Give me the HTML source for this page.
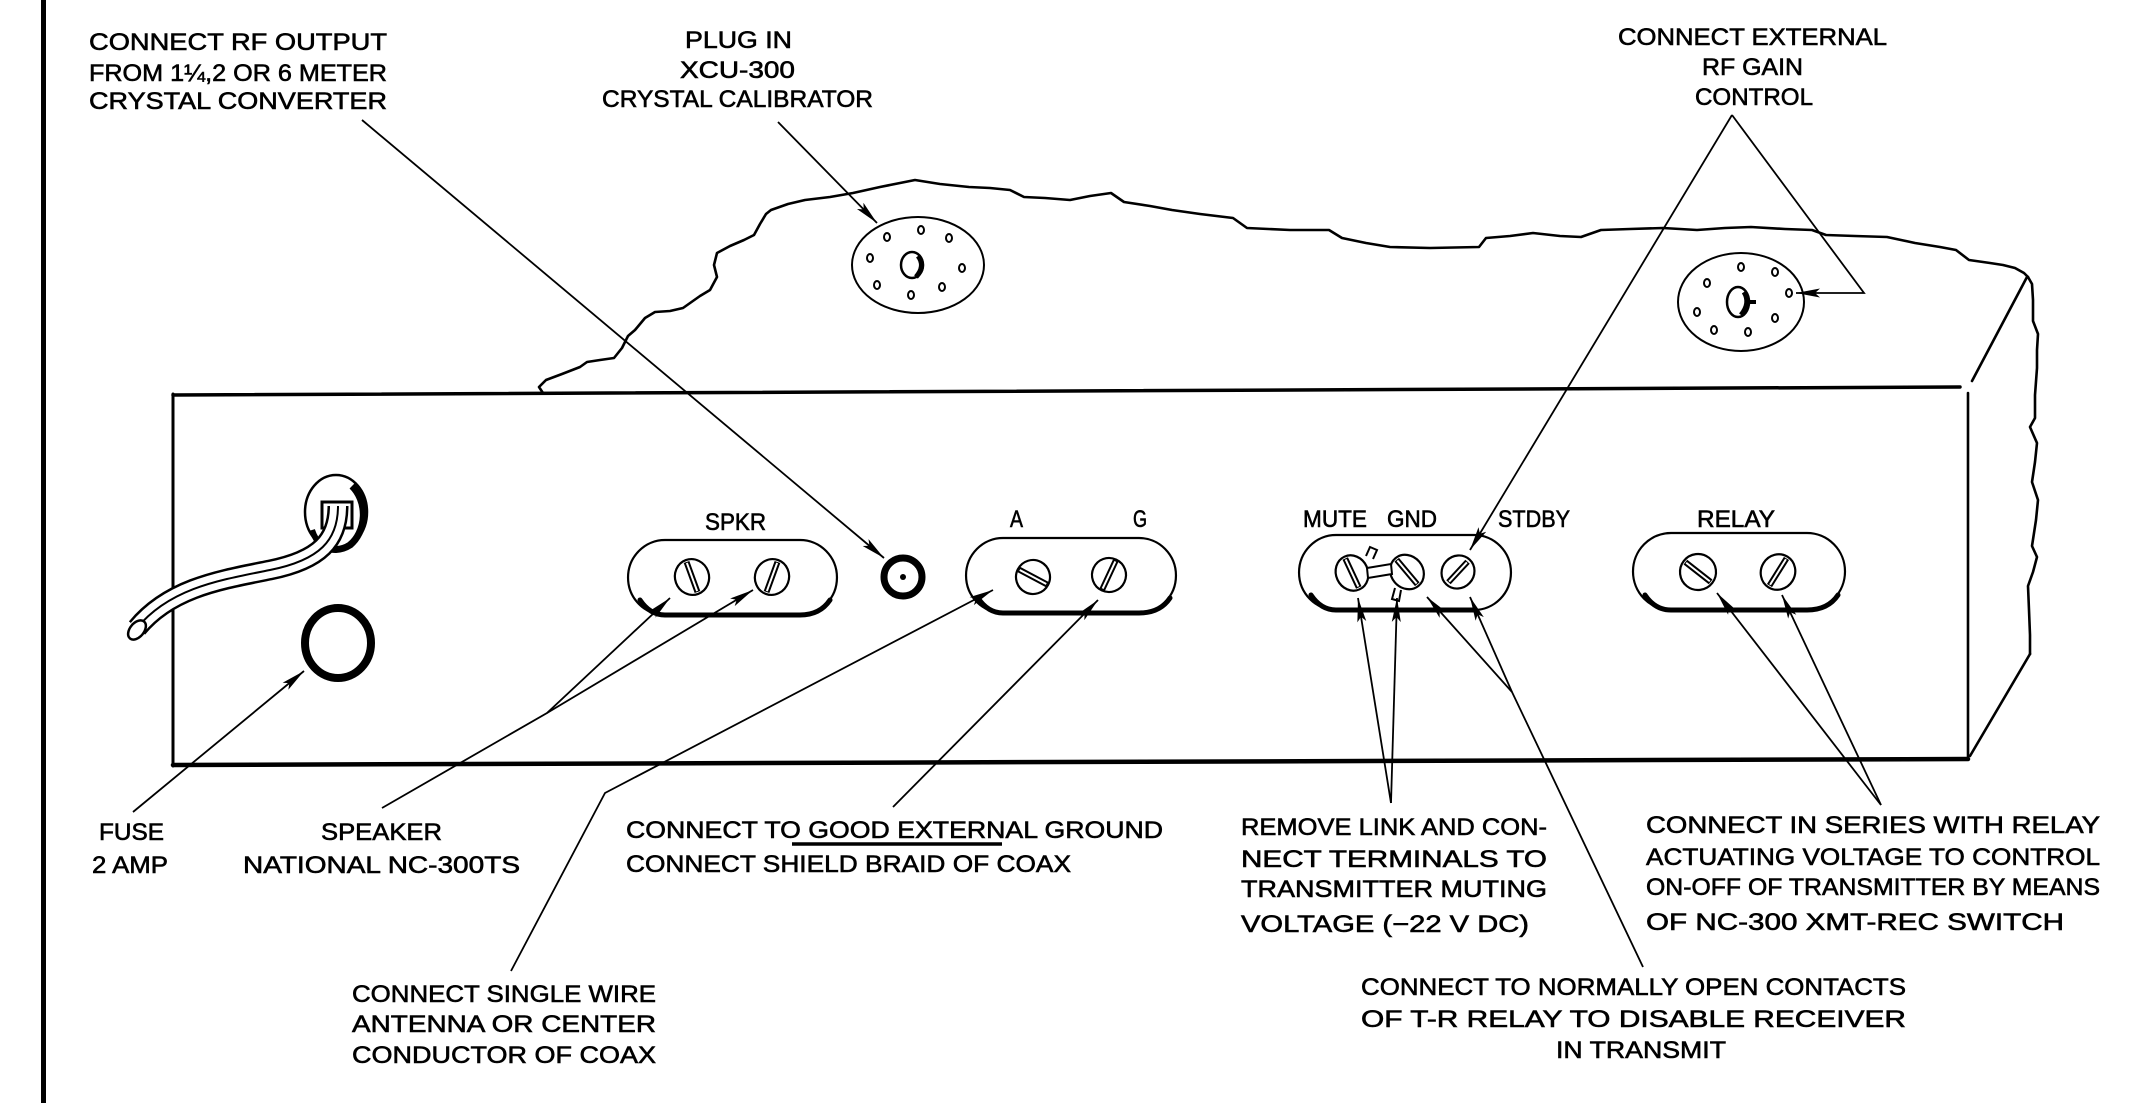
<!DOCTYPE html>
<html><head><meta charset="utf-8"><style>
html,body{margin:0;padding:0;background:#fff;}
svg{display:block;}
text{font-family:"Liberation Sans",sans-serif;font-size:24px;fill:#000;stroke:#000;stroke-width:0.6px;}
</style></head><body>
<svg width="2138" height="1103" viewBox="0 0 2138 1103" xmlns="http://www.w3.org/2000/svg">
<defs>
<marker id="ar" markerUnits="userSpaceOnUse" markerWidth="26" markerHeight="10" refX="24" refY="5" orient="auto">
<path d="M0,0.5 L24,5 L0,9.5 L5,5 Z" fill="#000"/>
</marker>
</defs>
<rect width="2138" height="1103" fill="#fff"/>
<!-- left border -->
<rect x="41" y="0" width="5" height="1103" fill="#000"/>

<g fill="none" stroke="#000" stroke-linejoin="round" stroke-linecap="round">
<!-- top wavy cutaway -->
<polyline stroke-width="2.6" points="543,393 539,387 546,380 562,374 580,367 587,362 600,360 614,358 622,348 628,336 635,330 645,318 655,312 670,311 683,308 700,296 710,290 717,277 714,265 717,253 730,246 744,240 754,235 760,224 766,214 771,210 788,204 805,200 830,197 853,193 880,187 900,183 915,180 940,184 969,187 990,188 1010,190 1024,197 1045,198 1070,200 1090,196 1111,193 1124,202 1150,206 1172,210 1200,214 1233,218 1247,228 1290,230 1329,230 1342,238 1366,243 1390,247 1430,248 1479,247 1486,238 1510,236 1533,233 1560,236 1581,237 1601,230 1630,229 1663,228 1697,230 1725,228 1751,227 1785,229 1812,230 1826,235 1855,236 1887,237 1915,243 1940,247 1956,250 1969,260 1990,263 2003,265 2015,268 2024,273 2028,277"/>
<!-- side right wavy edge -->
<polyline stroke-width="2.6" points="2028,277 2032,284 2033,300 2033,321 2038,334 2037,350 2037,368 2035,395 2035,418 2030,427 2037,443 2035,462 2032,482 2038,500 2036,520 2032,546 2037,557 2033,572 2028,586 2029,610 2030,635 2030,654"/>
<!-- side diagonals -->
<line x1="2027" y1="277" x2="1972" y2="381" stroke-width="2.6"/>
<line x1="2030" y1="654" x2="1970" y2="756" stroke-width="2.6"/>
<!-- front panel -->
<line x1="173" y1="395" x2="1960" y2="387" stroke-width="3.5"/>
<line x1="173" y1="394" x2="173" y2="766" stroke-width="3"/>
<line x1="1968" y1="393" x2="1968" y2="758" stroke-width="2.6"/>
<line x1="173" y1="765" x2="1968" y2="759" stroke-width="4.5"/>
</g>

<!-- left socket -->
<g fill="none" stroke="#000" stroke-width="2">
<ellipse cx="918" cy="265" rx="66" ry="48"/>
<ellipse cx="921" cy="230" rx="3" ry="4"/><ellipse cx="887" cy="237" rx="3" ry="4"/><ellipse cx="949" cy="238" rx="3" ry="4"/>
<ellipse cx="870" cy="258" rx="3" ry="4"/><ellipse cx="962" cy="268" rx="3" ry="4"/><ellipse cx="877" cy="285" rx="3" ry="4"/>
<ellipse cx="942" cy="287" rx="3" ry="4"/><ellipse cx="911" cy="295" rx="3" ry="4"/>
<ellipse cx="912" cy="265" rx="11" ry="13" stroke-width="2.5"/>
<path d="M918 256 Q926 266 916 277" stroke-width="5"/>
</g>
<!-- right socket -->
<g fill="none" stroke="#000" stroke-width="2">
<ellipse cx="1741" cy="302" rx="63" ry="49"/>
<ellipse cx="1741" cy="267" rx="3" ry="4"/><ellipse cx="1775" cy="272" rx="3" ry="4"/><ellipse cx="1707" cy="283" rx="3" ry="4"/>
<ellipse cx="1789" cy="293" rx="3" ry="4"/><ellipse cx="1697" cy="312" rx="3" ry="4"/><ellipse cx="1775" cy="318" rx="3" ry="4"/>
<ellipse cx="1714" cy="330" rx="3" ry="4"/><ellipse cx="1748" cy="332" rx="3" ry="4"/>
<ellipse cx="1738" cy="302" rx="11" ry="15" stroke-width="2.5"/>
<path d="M1744 292 Q1751 303 1741 315" stroke-width="5"/>
<path d="M1748 302 L1756 302" stroke-width="4"/>
</g>

<!-- power cord & grommet -->
<g fill="none" stroke-linecap="butt">
<ellipse cx="336" cy="512" rx="31" ry="37" stroke="#000" stroke-width="2.5" fill="#fff"/>
<path d="M352 486 A31 37 0 0 1 350 545 A31 37 0 0 1 322 546" stroke="#000" stroke-width="7"/>
<path d="M312 530 A31 37 0 0 0 322 546" stroke="#000" stroke-width="6"/>
<rect x="322" y="502" width="30" height="26" stroke="#000" stroke-width="3" fill="#fff"/>
<path d="M338 506 C338 540, 320 560, 270 570 C220 580, 170 588, 137 628" stroke="#000" stroke-width="21"/>
<path d="M338 506 C338 540, 320 560, 270 570 C220 580, 170 588, 137 628" stroke="#fff" stroke-width="16"/>
<path d="M338 506 C338 540, 320 560, 270 570 C220 580, 170 588, 137 628" stroke="#000" stroke-width="2"/>
<ellipse cx="137" cy="630" rx="11" ry="7" transform="rotate(-50 137 630)" stroke="#000" stroke-width="2.5" fill="#fff"/>
<!-- fuse holder -->
<ellipse cx="338" cy="643" rx="33" ry="35" stroke="#000" stroke-width="8"/>
<!-- coax jack -->
<circle cx="903" cy="577" r="19" stroke="#000" stroke-width="7"/>
<circle cx="903" cy="577" r="3" fill="#000"/>
</g>

<!-- terminal plates -->
<g fill="none" stroke="#000" stroke-linecap="round">
<path d="M665 540 L800 540 A37 37.5 0 0 1 800 615 L665 615 A37 37.5 0 0 1 665 540 Z" stroke-width="2.2"/>
<path d="M640 600 Q650 615 665 615 L800 615 Q820 615 830 600" stroke-width="5"/>
<path d="M1003 538 L1139 538 A37 37.5 0 0 1 1139 613 L1003 613 A37 37.5 0 0 1 1003 538 Z" stroke-width="2.2"/>
<path d="M978 598 Q988 613 1003 613 L1139 613 Q1160 613 1170 598" stroke-width="5"/>
<path d="M1336 535 L1474 535 A37 37.5 0 0 1 1474 610 L1336 610 A37 37.5 0 0 1 1336 535 Z" stroke-width="2.2"/>
<path d="M1311 595 Q1321 610 1336 610 L1474 610" stroke-width="5"/>
<path d="M1671 533 L1807 533 A38 38.5 0 0 1 1807 610 L1671 610 A38 38.5 0 0 1 1671 533 Z" stroke-width="2.2"/>
<path d="M1645 595 Q1655 610 1671 610 L1807 610 Q1828 610 1838 595" stroke-width="5"/>
</g>

<!-- screws -->
<g stroke="#000">
<g transform="translate(692,577) rotate(-20)"><ellipse rx="17" ry="18" fill="#fff" stroke-width="2.2"/><line x1="0" y1="-16" x2="0" y2="16" stroke-width="6"/><line x1="0" y1="-15" x2="0" y2="15" stroke="#fff" stroke-width="2"/></g>
<g transform="translate(772,577) rotate(20)"><ellipse rx="17" ry="18" fill="#fff" stroke-width="2.2"/><line x1="0" y1="-16" x2="0" y2="16" stroke-width="6"/><line x1="0" y1="-15" x2="0" y2="15" stroke="#fff" stroke-width="2"/></g>
<g transform="translate(1033,577) rotate(-62)"><ellipse rx="17" ry="17" fill="#fff" stroke-width="2.2"/><line x1="0" y1="-16" x2="0" y2="16" stroke-width="6"/><line x1="0" y1="-15" x2="0" y2="15" stroke="#fff" stroke-width="2"/></g>
<g transform="translate(1109,575) rotate(25)"><ellipse rx="17" ry="17" fill="#fff" stroke-width="2.2"/><line x1="0" y1="-16" x2="0" y2="16" stroke-width="6"/><line x1="0" y1="-15" x2="0" y2="15" stroke="#fff" stroke-width="2"/></g>
<g transform="translate(1352,573) rotate(-25)"><ellipse rx="16" ry="18" fill="#fff" stroke-width="2.2"/><line x1="0" y1="-16" x2="0" y2="16" stroke-width="6"/><line x1="0" y1="-15" x2="0" y2="15" stroke="#fff" stroke-width="2"/></g>
<g transform="translate(1407,572) rotate(-40)"><ellipse rx="16" ry="18" fill="#fff" stroke-width="2.2"/><line x1="0" y1="-16" x2="0" y2="16" stroke-width="6"/><line x1="0" y1="-15" x2="0" y2="15" stroke="#fff" stroke-width="2"/></g>
<g transform="translate(1458,572) rotate(43)"><ellipse rx="16" ry="17" fill="#fff" stroke-width="2.2"/><line x1="0" y1="-14" x2="0" y2="14" stroke-width="6"/><line x1="0" y1="-13" x2="0" y2="13" stroke="#fff" stroke-width="2"/></g>
<g transform="translate(1698,572) rotate(-52)"><ellipse rx="18" ry="18" fill="#fff" stroke-width="2.2"/><line x1="0" y1="-16" x2="0" y2="16" stroke-width="6"/><line x1="0" y1="-15" x2="0" y2="15" stroke="#fff" stroke-width="2"/></g>
<g transform="translate(1778,572) rotate(32)"><ellipse rx="17" ry="18" fill="#fff" stroke-width="2.2"/><line x1="0" y1="-16" x2="0" y2="16" stroke-width="6"/><line x1="0" y1="-15" x2="0" y2="15" stroke="#fff" stroke-width="2"/></g>
<!-- link -->
<path d="M1367 568 L1391 564 L1392 574 L1368 578 Z" fill="#fff" stroke-width="2"/>
<path d="M1366 556 L1370 547 L1377 550 L1373 559" fill="#fff" stroke-width="2"/>
<path d="M1395 588 L1392 599 L1399 601 L1401 590" fill="#fff" stroke-width="2"/>
</g>

<!-- leader lines -->
<g fill="none" stroke="#000" stroke-width="1.8" marker-end="url(#ar)">
<line x1="362" y1="120" x2="884" y2="558"/>
<line x1="778" y1="122" x2="877" y2="223"/>
<polyline points="1732,115 1864,293 1796,293"/>
<line x1="1732" y1="115" x2="1470" y2="550"/>
<line x1="133" y1="812" x2="304" y2="671"/>
<polyline points="382,808 547,713 670,598"/>
<line x1="547" y1="713" x2="753" y2="590"/>
<polyline points="511,971 605,793 993,590"/>
<line x1="893" y1="807" x2="1098" y2="600"/>
<polyline points="1391,803 1358,598"/>
<line x1="1391" y1="803" x2="1397" y2="598"/>
<polyline points="1643,967 1512,692 1427,597"/>
<line x1="1512" y1="692" x2="1470" y2="597"/>
<polyline points="1881,805 1717,593"/>
<line x1="1881" y1="805" x2="1782" y2="595"/>
</g>
<line x1="792" y1="844" x2="1002" y2="844" stroke="#000" stroke-width="3.5"/>

<!-- text -->
<g>
<text x="89" y="50" textLength="298" lengthAdjust="spacingAndGlyphs">CONNECT  RF  OUTPUT</text>
<text x="89" y="81" textLength="298" lengthAdjust="spacingAndGlyphs">FROM 1¼,2 OR 6 METER</text>
<text x="89" y="109" textLength="298" lengthAdjust="spacingAndGlyphs">CRYSTAL  CONVERTER</text>
<text x="685" y="48" textLength="107" lengthAdjust="spacingAndGlyphs">PLUG  IN</text>
<text x="680" y="78" textLength="115" lengthAdjust="spacingAndGlyphs">XCU-300</text>
<text x="602" y="107" textLength="271" lengthAdjust="spacingAndGlyphs">CRYSTAL  CALIBRATOR</text>
<text x="1618" y="45" textLength="269" lengthAdjust="spacingAndGlyphs">CONNECT  EXTERNAL</text>
<text x="1702" y="75" textLength="101" lengthAdjust="spacingAndGlyphs">RF GAIN</text>
<text x="1695" y="105" textLength="118" lengthAdjust="spacingAndGlyphs">CONTROL</text>

<text x="705" y="530" textLength="61" lengthAdjust="spacingAndGlyphs">SPKR</text>
<text x="1010" y="527" textLength="13" lengthAdjust="spacingAndGlyphs">A</text>
<text x="1133" y="527" textLength="14" lengthAdjust="spacingAndGlyphs">G</text>
<text x="1303" y="527" textLength="64" lengthAdjust="spacingAndGlyphs">MUTE</text>
<text x="1387" y="527" textLength="50" lengthAdjust="spacingAndGlyphs">GND</text>
<text x="1498" y="527" textLength="72" lengthAdjust="spacingAndGlyphs">STDBY</text>
<text x="1697" y="527" textLength="78" lengthAdjust="spacingAndGlyphs">RELAY</text>

<text x="99" y="840" textLength="65" lengthAdjust="spacingAndGlyphs">FUSE</text>
<text x="92" y="873" textLength="76" lengthAdjust="spacingAndGlyphs">2 AMP</text>
<text x="321" y="840" textLength="121" lengthAdjust="spacingAndGlyphs">SPEAKER</text>
<text x="243" y="873" textLength="277" lengthAdjust="spacingAndGlyphs">NATIONAL  NC-300TS</text>
<text x="626" y="838" textLength="537" lengthAdjust="spacingAndGlyphs">CONNECT  TO  GOOD  EXTERNAL  GROUND</text>
<text x="626" y="872" textLength="445" lengthAdjust="spacingAndGlyphs">CONNECT  SHIELD  BRAID  OF  COAX</text>
<text x="352" y="1002" textLength="304" lengthAdjust="spacingAndGlyphs">CONNECT  SINGLE  WIRE</text>
<text x="352" y="1032" textLength="304" lengthAdjust="spacingAndGlyphs">ANTENNA  OR  CENTER</text>
<text x="352" y="1063" textLength="304" lengthAdjust="spacingAndGlyphs">CONDUCTOR  OF  COAX</text>

<text x="1241" y="835" textLength="306" lengthAdjust="spacingAndGlyphs">REMOVE LINK AND CON-</text>
<text x="1241" y="867" textLength="306" lengthAdjust="spacingAndGlyphs">NECT  TERMINALS  TO</text>
<text x="1241" y="897" textLength="306" lengthAdjust="spacingAndGlyphs">TRANSMITTER   MUTING</text>
<text x="1241" y="932" textLength="288" lengthAdjust="spacingAndGlyphs">VOLTAGE  (−22 V DC)</text>
<text x="1646" y="833" textLength="454" lengthAdjust="spacingAndGlyphs">CONNECT  IN  SERIES  WITH  RELAY</text>
<text x="1646" y="865" textLength="454" lengthAdjust="spacingAndGlyphs">ACTUATING  VOLTAGE  TO CONTROL</text>
<text x="1646" y="895" textLength="454" lengthAdjust="spacingAndGlyphs">ON-OFF OF TRANSMITTER  BY  MEANS</text>
<text x="1646" y="930" textLength="418" lengthAdjust="spacingAndGlyphs">OF  NC-300  XMT-REC  SWITCH</text>
<text x="1361" y="995" textLength="545" lengthAdjust="spacingAndGlyphs">CONNECT  TO  NORMALLY  OPEN  CONTACTS</text>
<text x="1361" y="1027" textLength="545" lengthAdjust="spacingAndGlyphs">OF  T-R  RELAY  TO  DISABLE   RECEIVER</text>
<text x="1556" y="1058" textLength="170" lengthAdjust="spacingAndGlyphs">IN  TRANSMIT</text>
</g>
</svg>
</body></html>
